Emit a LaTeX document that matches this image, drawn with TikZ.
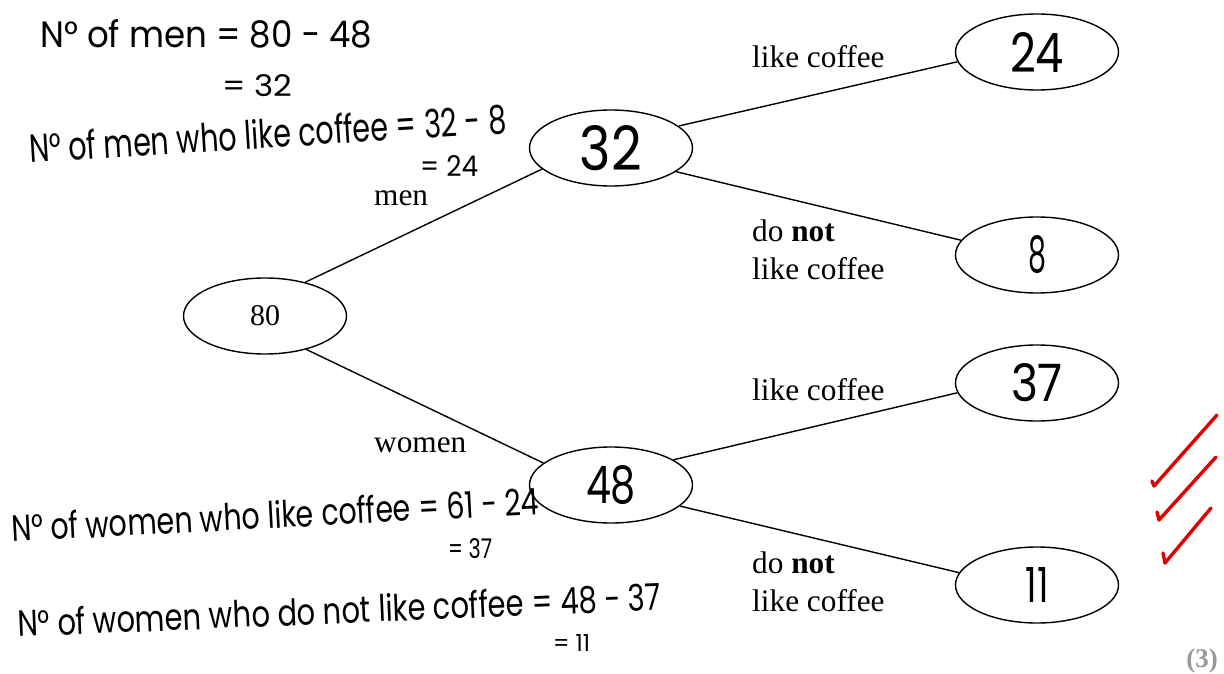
\documentclass[tikz,border=0pt]{standalone}
\usepackage{fontspec}
\usepackage{graphicx}
\setmainfont{Liberation Serif}
\newfontfamily\handfont{Poppins}
\usetikzlibrary{shapes.geometric}
% handwritten text stretched to a given width and height
\newcommand\hand[3]{\resizebox{#1pt}{#2pt}{\handfont #3}}
\tikzset{
  count/.style={draw, ellipse, line width=1.4pt, minimum width=163pt, minimum height=76pt, inner sep=0pt},
  branch/.style={line width=1.4pt},
  lbl/.style={anchor=base west, inner sep=0pt, font=\fontsize{31.3}{38}\selectfont},
  note/.style={anchor=base west, inner sep=0pt},
  tick/.style={draw=red!88!black, line width=3.4pt, line cap=round, line join=round}
}
\begin{document}
\begin{tikzpicture}[x=1pt, y=-1pt]
\useasboundingbox (0,0) rectangle (1224,674);
\fill[white] (0,0) rectangle (1224,674);

% tree of counts
\node[count] (n80) at (265,316) {\fontsize{30}{36}\selectfont 80};
\node[count] (n32) at (611,148) {\hand{62}{45}{32}};
\node[count] (n48) at (611,485) {\hand{50}{38}{48}};
\node[count] (n24) at (1037,52) {\hand{54}{40}{24}};
\node[count] (n8)  at (1037,255) {\hand{18}{37}{8}};
\node[count] (n37) at (1037,383) {\hand{52}{38}{37}};
\node[count] (n11) at (1037,585) {\hand{23}{35}{11}};

\draw[branch] (n80.40)  -- (n32.197);
\draw[branch] (n80.321) -- (n48.162);
\draw[branch] (n32.18)  -- (n24.187);
\draw[branch] (n32.340) -- (n8.169);
\draw[branch] (n48.22)  -- (n37.187);
\draw[branch] (n48.343) -- (n11.171);

% branch labels
\node[lbl] (lmen)   at (374,205) {men};
\node[lbl] (lwomen) at (374,452) {women};
\node[lbl] (l1) at (752,68)  {like coffee};
\node[lbl] (l2) at (752,241) {do \textbf{not}};
\node[lbl] (l3) at (752,279) {like coffee};
\node[lbl] (l4) at (752,400) {like coffee};
\node[lbl] (l5) at (752,573) {do \textbf{not}};
\node[lbl] (l6) at (752,611) {like coffee};

\node[anchor=base east, inner sep=0pt, text=black!40,
      font=\fontsize{27}{30}\selectfont\bfseries] (marks) at (1218,667) {(3)};

% working written beside the tree
\node[note] (w1) at (40,48) {\hand{332}{28}{N° of men = 80 − 48}};
\node[note] (w2) at (222,97) {\hand{70}{22}{= 32}};
\node[note, rotate=3.6] (w3) at (30,163) {\hand{478}{30}{N° of men who like coffee = 32 - 8}};
\node[note] (w4) at (420,176) {\hand{58}{21}{= 24}};
\node[note, rotate=3.0] (w5) at (12,542) {\hand{528}{28}{N° of women who like coffee = 61 - 24}};
\node[note] (w6) at (448,558) {\hand{44}{20}{= 37}};
\node[note, rotate=2.4] (w7) at (18,637) {\hand{644}{28}{N° of women who do not like coffee = 48 - 37}};
\node[note] (w8) at (553,651) {\hand{37}{17}{= 11}};

% red ticks
\draw[tick] (1152,481) -- (1154,486) -- (1217,415);
\draw[tick] (1157,512) -- (1159,520) -- (1216,457);
\draw[tick] (1163,553) -- (1165,563) -- (1211,508);
\end{tikzpicture}
\end{document}
